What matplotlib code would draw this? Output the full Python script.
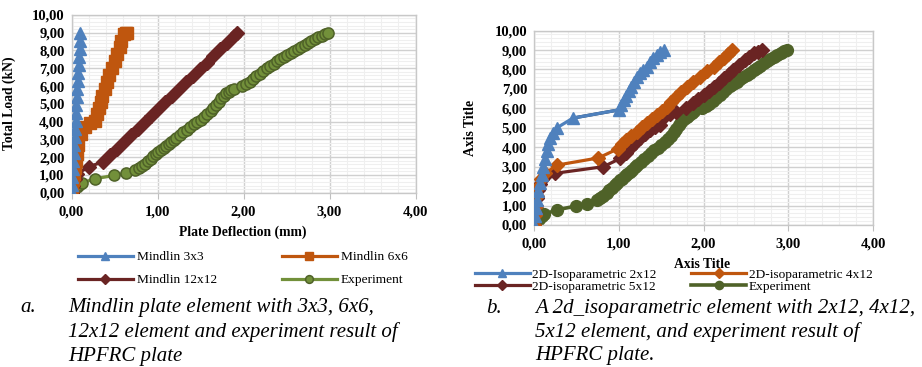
import matplotlib
matplotlib.use("Agg")
import matplotlib.pyplot as plt
from matplotlib.ticker import MultipleLocator, FuncFormatter

# ---------------- data ----------------
# Left chart: Mindlin plate elements
m3_x = [0.000, 0.005, 0.010, 0.016, 0.021, 0.026, 0.031, 0.036, 0.042, 0.047, 0.052,
        0.057, 0.062, 0.068, 0.073, 0.078, 0.083, 0.088, 0.094, 0.099, 0.104]
m3_y = [0.00, 0.45, 0.90, 1.35, 1.80, 2.25, 2.70, 3.15, 3.60, 4.05, 4.50,
        4.95, 5.40, 5.85, 6.30, 6.75, 7.20, 7.65, 8.10, 8.55, 9.00]

m6_x = [0.00, 0.01, 0.02, 0.03, 0.04, 0.05, 0.06, 0.08, 0.11, 0.16, 0.21, 0.27, 0.30,
        0.32, 0.34, 0.36, 0.39, 0.41, 0.44, 0.47, 0.50, 0.53, 0.56, 0.58, 0.61, 0.63, 0.65]
m6_y = [0.00, 0.35, 0.70, 1.05, 1.40, 1.80, 2.20, 2.70, 3.30, 3.70, 3.90, 4.05, 4.40,
        4.75, 5.10, 5.45, 5.85, 6.20, 6.60, 7.00, 7.40, 7.80, 8.20, 8.55, 8.90, 9.00, 9.00]

m12_x = [0.00, 0.02, 0.04, 0.06, 0.20, 0.37, 0.45, 0.53, 0.61, 0.69, 0.77, 0.85, 0.93,
         1.01, 1.09, 1.17, 1.25, 1.33, 1.41, 1.49, 1.57, 1.65, 1.73, 1.81, 1.89, 1.93]
m12_y = [0.00, 0.40, 0.75, 1.05, 1.45, 1.75, 2.11, 2.48, 2.86, 3.23, 3.60, 3.97, 4.34,
         4.72, 5.09, 5.46, 5.83, 6.20, 6.58, 6.95, 7.32, 7.69, 8.06, 8.44, 8.81, 9.00]

# Experiment (both charts)
exp_x = [0.00, 0.02, 0.04, 0.06, 0.09, 0.12, 0.27, 0.49, 0.63, 0.74, 0.78, 0.82, 0.86,
         0.89, 0.92, 0.95, 0.98, 1.01, 1.04, 1.07, 1.10, 1.13, 1.16, 1.19, 1.22, 1.26,
         1.30, 1.34, 1.38, 1.42, 1.46, 1.50, 1.54, 1.58, 1.62, 1.65, 1.68, 1.71, 1.74,
         1.77, 1.80, 1.83, 1.86, 1.89, 1.98, 2.03, 2.07, 2.11, 2.15, 2.19, 2.23, 2.27,
         2.31, 2.35, 2.39, 2.43, 2.47, 2.51, 2.55, 2.59, 2.63, 2.67, 2.71, 2.75, 2.79,
         2.83, 2.87, 2.91, 2.95, 2.98]
exp_y = [0.00, 0.12, 0.22, 0.32, 0.45, 0.55, 0.78, 0.97, 1.10, 1.29, 1.38, 1.50, 1.63,
         1.78, 1.92, 2.05, 2.17, 2.30, 2.38, 2.50, 2.62, 2.72, 2.85, 2.98, 3.10, 3.25,
         3.40, 3.55, 3.70, 3.85, 3.98, 4.10, 4.25, 4.42, 4.60, 4.78, 4.95, 5.12, 5.30,
         5.45, 5.58, 5.68, 5.78, 5.85, 6.02, 6.12, 6.25, 6.40, 6.55, 6.70, 6.85, 7.00,
         7.13, 7.26, 7.38, 7.50, 7.62, 7.73, 7.84, 7.96, 8.08, 8.20, 8.32, 8.43, 8.54,
         8.64, 8.74, 8.84, 8.93, 9.00]

# Right chart: 2D-isoparametric elements
iso2_x = [0.00, 0.01, 0.02, 0.03, 0.05, 0.07, 0.09, 0.11, 0.13, 0.15, 0.17, 0.19, 0.22,
          0.27, 0.46, 1.00, 1.03, 1.06, 1.09, 1.12, 1.15, 1.18, 1.22, 1.25, 1.29, 1.33,
          1.37, 1.41, 1.45, 1.49, 1.53]
iso2_y = [0.00, 0.45, 0.90, 1.30, 1.75, 2.15, 2.55, 3.00, 3.40, 3.80, 4.15, 4.45, 4.75,
          5.00, 5.50, 5.92, 6.15, 6.43, 6.65, 6.90, 7.10, 7.35, 7.60, 7.80, 7.98, 8.15,
          8.40, 8.60, 8.75, 8.88, 9.00]

iso4_x = [0.00, 0.01, 0.02, 0.03, 0.05, 0.08, 0.13, 0.27, 0.76, 0.99, 1.04, 1.09, 1.15,
          1.21, 1.27, 1.33, 1.39, 1.45, 1.51, 1.57, 1.62, 1.67, 1.73, 1.80, 1.88, 1.96,
          2.04, 2.12, 2.18, 2.24, 2.29, 2.34]
iso4_y = [0.00, 0.50, 1.00, 1.50, 1.95, 2.35, 2.65, 3.08, 3.45, 3.92, 4.15, 4.37, 4.58,
          4.80, 5.02, 5.23, 5.45, 5.66, 5.88, 6.09, 6.35, 6.60, 6.85, 7.12, 7.38, 7.63,
          7.90, 8.15, 8.37, 8.58, 8.80, 9.00]

iso5_x = [0.00, 0.01, 0.02, 0.03, 0.05, 0.07, 0.09, 0.13, 0.25, 0.82, 1.02, 1.08, 1.13,
          1.19, 1.25, 1.31, 1.37, 1.43, 1.49, 1.53, 1.60, 1.67, 1.79, 1.88, 1.94, 2.00,
          2.06, 2.12, 2.18, 2.24, 2.30, 2.35, 2.42, 2.49, 2.54, 2.59, 2.64, 2.69]
iso5_y = [0.00, 0.60, 1.00, 1.40, 1.80, 2.10, 2.35, 2.50, 2.66, 3.00, 3.43, 3.70, 3.95,
          4.20, 4.46, 4.68, 4.89, 5.02, 5.15, 5.57, 5.70, 5.83, 6.00, 6.26, 6.48, 6.69,
          6.90, 7.12, 7.33, 7.55, 7.76, 7.98, 8.25, 8.49, 8.66, 8.83, 8.92, 9.00]

left_labels = ["Mindlin 3x3", "Mindlin 6x6", "Mindlin 12x12", "Experiment"]
right_labels = ["2D-Isoparametric 2x12", "2D-isoparametric 4x12",
                "2D-isoparametric 5x12", "Experiment"]
caption_a = ["Mindlin plate element with 3x3, 6x6,",
             "12x12 element and experiment result of",
             "HPFRC plate"]
caption_b = ["A 2d_isoparametric element with 2x12, 4x12,",
             "5x12 element, and experiment result of",
             "HPFRC plate."]

# ---------------- style ----------------
SERIF = ["Liberation Serif", "DejaVu Serif"]
plt.rcParams["font.family"] = SERIF
BLUE = "#4F81BD"
ORANGE = "#BF560E"
DRED = "#6A2423"
GREEN_F = "#72903A"
GREEN_E = "#4F6228"
NAVY = "#1F3B5C"
FIG_W, FIG_H = 922, 367
LEG_FS = 9.6
AX_FS = 9.8

fig = plt.figure(figsize=(FIG_W / 100, FIG_H / 100), dpi=100)


def px_axes(x0, x1, y_bottom, y_top):
    return fig.add_axes([x0 / FIG_W, (FIG_H - y_bottom) / FIG_H,
                         (x1 - x0) / FIG_W, (y_bottom - y_top) / FIG_H])


def style_axes(ax):
    ax.set_xlim(0, 4)
    ax.set_ylim(0, 10)
    ax.xaxis.set_major_locator(MultipleLocator(1))
    ax.xaxis.set_minor_locator(MultipleLocator(0.2))
    ax.yaxis.set_major_locator(MultipleLocator(1))
    ax.yaxis.set_minor_locator(MultipleLocator(0.2))
    fmt = FuncFormatter(lambda v, p: f"{v:.2f}".replace(".", ","))
    ax.xaxis.set_major_formatter(fmt)
    ax.yaxis.set_major_formatter(fmt)
    ax.grid(True, which="major", color="#D0D0D0", lw=1.0)
    ax.grid(True, which="minor", color="#EFEFEF", lw=0.8)
    ax.set_axisbelow(True)
    for s in ax.spines.values():
        s.set_color("#C8C8C8")
        s.set_linewidth(1.0)
    ax.tick_params(axis="x", which="major", length=4, color="#BFBFBF", pad=5,
                   labelsize=10.5)
    ax.tick_params(axis="y", which="major", length=0, pad=5, labelsize=10.5)
    ax.tick_params(which="minor", length=0)
    for lab in ax.get_xticklabels() + ax.get_yticklabels():
        lab.set_fontweight("bold")


def row_order(handles, labels):
    # legend fills columns first; reorder so entries read row-wise
    idx = [0, 2, 1, 3]
    return [handles[i] for i in idx], [labels[i] for i in idx]


# ---------------- left chart ----------------
axL = px_axes(71.5, 415.5, 192.7, 14.9)
style_axes(axL)
lines_L = [
    axL.plot(m3_x, m3_y, color=BLUE, lw=2.3, marker="^", ms=8.5,
             mfc=BLUE, mec=BLUE, zorder=5)[0],
    axL.plot(m6_x, m6_y, color=ORANGE, lw=2.3, marker="s", ms=8.5,
             mfc=ORANGE, mec=ORANGE, zorder=4)[0],
    axL.plot(m12_x, m12_y, color=DRED, lw=2.3, marker="D", ms=7,
             mfc=DRED, mec=DRED, zorder=3)[0],
    axL.plot(exp_x, exp_y, color=GREEN_F, lw=2.3, marker="o", ms=8,
             mfc=GREEN_F, mec=GREEN_E, mew=1.1, zorder=2)[0],
]
axL.set_ylabel("Total Load (kN)", fontsize=AX_FS, fontweight="bold")
axL.yaxis.set_label_coords(-0.16, 0.505)
axL.set_xlabel("Plate Deflection (mm)", fontsize=AX_FS, fontweight="bold")
axL.xaxis.label.set_va("center")
axL.xaxis.set_label_coords(0.4985, -0.225)
hL, lL = row_order(lines_L, left_labels)
fig.legend(hL, lL, ncol=2, loc="upper left", frameon=False,
           bbox_to_anchor=(78 / FIG_W, 1 - 251 / FIG_H), fontsize=LEG_FS,
           handlelength=4.1, handletextpad=0.3, columnspacing=4.9,
           labelspacing=0.8, borderaxespad=0, borderpad=0, numpoints=1,
           markerscale=0.7)

# ---------------- right chart ----------------
axR = px_axes(534, 873, 225, 30.6)
style_axes(axR)
lines_R = [
    axR.plot(iso2_x, iso2_y, color=BLUE, lw=2.3, marker="^", ms=8.5,
             mfc=BLUE, mec=BLUE, zorder=5)[0],
    axR.plot(iso4_x, iso4_y, color=ORANGE, lw=2.3, marker="D", ms=7,
             mfc=ORANGE, mec=ORANGE, zorder=4)[0],
    axR.plot(iso5_x, iso5_y, color=DRED, lw=2.3, marker="D", ms=7,
             mfc=DRED, mec=DRED, zorder=3)[0],
    axR.plot(exp_x, exp_y, color=GREEN_E, lw=2.6, marker="o", ms=8.5,
             mfc=GREEN_E, mec=GREEN_E, zorder=2)[0],
]
axR.plot(iso2_x[14:16], iso2_y[14:16], color=NAVY, lw=2.3, zorder=4.5)
axR.set_ylabel("Axis Title", fontsize=AX_FS, fontweight="bold")
axR.yaxis.set_label_coords(-0.168, 0.5)
axR.set_xlabel("Axis Title", fontsize=AX_FS, fontweight="bold")
axR.xaxis.label.set_va("center")
axR.xaxis.set_label_coords(0.495, -0.2026)
hR, lR = row_order(lines_R, right_labels)
fig.legend(hR, lR, ncol=2, loc="upper left", frameon=False,
           bbox_to_anchor=(475 / FIG_W, 1 - 268.5 / FIG_H), fontsize=LEG_FS,
           handlelength=4.1, handletextpad=0.2, columnspacing=2.6,
           labelspacing=0.0, borderaxespad=0, borderpad=0, numpoints=1,
           markerscale=0.7)

# ---------------- captions ----------------
cap_font = dict(fontsize=15, fontstyle="italic", va="center", family=SERIF)
fig.text(20 / FIG_W, 1 - 307.7 / FIG_H, "a.", **cap_font)
for i, line in enumerate(caption_a):
    fig.text(68 / FIG_W, 1 - (307.7 + 24.5 * i) / FIG_H, line, **cap_font)
fig.text(486 / FIG_W, 1 - 308.3 / FIG_H, "b.", **cap_font)
for i, line in enumerate(caption_b):
    fig.text(535 / FIG_W, 1 - (308.3 + 23.5 * i) / FIG_H, line, **cap_font)

fig.savefig("out.png", dpi=100)
